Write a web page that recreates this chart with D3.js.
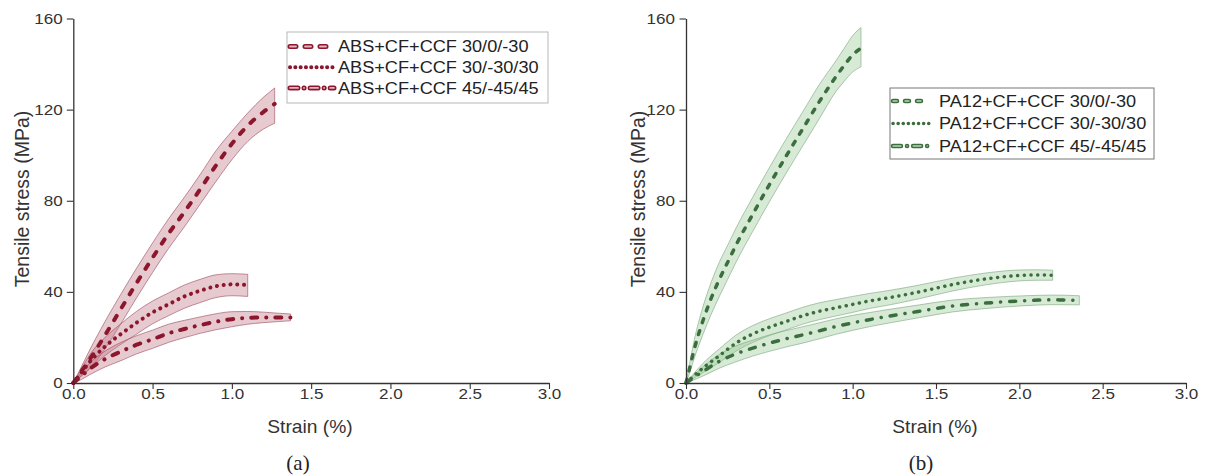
<!DOCTYPE html>
<html><head><meta charset="utf-8">
<script src="https://cdn.jsdelivr.net/npm/d3@7"></script>
<style>body{margin:0;background:#fff}svg{display:block}</style>
</head><body>
<svg id="c" width="1205" height="476"></svg>
<script>
// ---------- DATA ----------
const xMajor = [0, 0.5, 1.0, 1.5, 2.0, 2.5, 3.0];
const yMajor = [0, 40, 80, 120, 160];
const xTitle = "Strain (%)";
const yTitle = "Tensile stress (MPa)";

// (a) ABS
const absLabels = ["ABS+CF+CCF 30/0/-30", "ABS+CF+CCF 30/-30/30", "ABS+CF+CCF 45/-45/45"];
const a1Strain = [0, 0.05, 0.1, 0.2, 0.3, 0.4, 0.5, 0.6, 0.7, 0.8, 0.9, 1.0, 1.1, 1.2, 1.27];
const a1Mean   = [0, 5, 10, 21, 32.5, 44, 55, 65.5, 75, 85, 95.5, 105, 113, 119, 122.5];
const a1Upper  = [0, 7, 14, 27, 39, 50.5, 61.5, 72, 81.5, 91.5, 102, 110.5, 118.5, 125.5, 129.5];
const a1Lower  = [0, 3, 6, 15, 26, 37.5, 48.5, 59, 68.5, 78.5, 88.5, 98, 106, 111.5, 114];

const a2Strain = [0, 0.05, 0.1, 0.2, 0.3, 0.4, 0.5, 0.6, 0.7, 0.8, 0.9, 1.0, 1.1];
const a2Mean   = [0, 4.5, 9, 16, 21.5, 26.5, 31, 34.5, 38, 40.5, 42.5, 43.3, 43];
const a2Upper  = [0, 6, 12, 20, 26, 31.5, 36, 39.5, 43, 45.5, 47.5, 48, 47.7];
const a2Lower  = [0, 3, 6, 12, 17, 21.5, 26, 29.5, 32.8, 35.3, 37.5, 38.3, 38];

const a3Strain = [0, 0.05, 0.1, 0.2, 0.3, 0.4, 0.5, 0.6, 0.7, 0.8, 0.9, 1.0, 1.1, 1.2, 1.3, 1.37];
const a3Mean   = [0, 3, 6, 10.5, 13.8, 16.8, 19.2, 21.8, 23.7, 25.4, 26.9, 28, 28.6, 28.8, 28.8, 28.8];
const a3Upper  = [0, 4.5, 8.5, 14, 17.8, 20.8, 23.2, 25.8, 27.5, 29, 30.4, 31.3, 31.4, 31.1, 30.6, 30.3];
const a3Lower  = [0, 1.5, 3.5, 7, 9.8, 12.8, 15.2, 17.8, 19.9, 21.8, 23.4, 24.7, 25.8, 26.5, 27, 27.3];

// (b) PA12
const paLabels = ["PA12+CF+CCF 30/0/-30", "PA12+CF+CCF 30/-30/30", "PA12+CF+CCF 45/-45/45"];
const b1Strain = [0, 0.02, 0.05, 0.1, 0.15, 0.2, 0.25, 0.3, 0.4, 0.5, 0.6, 0.7, 0.8, 0.9, 0.95, 1.0, 1.05];
const b1Mean   = [0, 6, 15, 27, 37, 45.5, 53, 60.5, 74, 87, 99.5, 111.5, 123.5, 134.5, 139.5, 144, 147];
const b1Upper  = [0, 8, 19, 33, 44, 53, 60.5, 68, 81.5, 94.5, 107, 119, 131, 141.5, 147, 152.5, 156];
const b1Lower  = [0, 4, 11, 21, 30, 38, 45.5, 53, 66.5, 79.5, 92, 104, 116, 128, 132.5, 136.5, 138.8];

const b2Strain = [0, 0.1, 0.2, 0.3, 0.4, 0.5, 0.6, 0.7, 0.8, 0.9, 1.0, 1.1, 1.2, 1.4, 1.6, 1.8, 2.0, 2.1, 2.2];
const b2Mean   = [0, 6.5, 12, 17.5, 21.5, 24.5, 27, 29.5, 31.5, 33, 34.5, 36, 37.2, 40, 43.2, 45.7, 47.2, 47.4, 47.3];
const b2Upper  = [0, 8.5, 15, 21, 25.2, 28.2, 30.7, 33.2, 35.2, 36.6, 38, 39.3, 40.4, 43, 46, 48.3, 49.6, 49.7, 49.5];
const b2Lower  = [0, 4.5, 9, 14, 17.8, 20.8, 23.3, 25.8, 27.8, 29.4, 31, 32.7, 34, 37, 40.4, 43.1, 44.8, 45.1, 45.1];

const b3Strain = [0, 0.1, 0.2, 0.3, 0.4, 0.5, 0.6, 0.7, 0.8, 0.9, 1.0, 1.1, 1.2, 1.4, 1.6, 1.8, 2.0, 2.2, 2.36];
const b3Mean   = [0, 5, 9.5, 12.8, 15.3, 17.5, 19.4, 21.1, 22.9, 24.8, 26.4, 27.8, 29.1, 31.5, 33.8, 35.1, 36, 36.5, 36.3];
const b3Upper  = [0, 7, 12.5, 16.3, 18.8, 21.1, 23, 24.7, 26.4, 28.2, 29.7, 30.9, 32.1, 34.3, 36.4, 37.5, 38.2, 38.6, 38.3];
const b3Lower  = [0, 3, 6.5, 9.3, 11.8, 13.9, 15.8, 17.5, 19.4, 21.4, 23.1, 24.7, 26.1, 28.7, 31.2, 32.7, 33.8, 34.4, 34.3];

// ---------- DRAW ----------
const svg = d3.select("#c");
const FONT = "'Liberation Sans', Arial, Helvetica, sans-serif";
const SX = 1.1;

function series(s, m, u, l) { return s.map((v, i) => ({x: v, m: m[i], u: u[i], l: l[i]})); }

function panel(o) {
  const x = d3.scaleLinear().domain([0, 3]).range([o.x0, o.x3]);
  const y = d3.scaleLinear().domain([0, 160]).range([383, 18.5]);
  const g = svg.append("g");

  // bands
  o.data.forEach(d => {
    const area = d3.area().x(p => x(p.x)).y0(p => y(p.l)).y1(p => y(p.u)).curve(d3.curveMonotoneX);
    g.append("path").attr("d", area(d)).attr("fill", o.fill).attr("fill-opacity", o.fillOp)
      .attr("stroke", o.edge).attr("stroke-width", 0.6);
  });
  // lines
  o.data.forEach((d, i) => {
    const line = d3.line().x(p => x(p.x)).y(p => y(p.m)).curve(d3.curveMonotoneX);
    g.append("path").attr("d", line(d)).attr("fill", "none").attr("stroke", o.color)
      .attr("stroke-width", o.lw).attr("stroke-linecap", "round").attr("stroke-dasharray", o.dash[i]);
  });

  // axes
  const xMinor = d3.range(0, 31).map(v => v / 10).filter(v => !xMajor.some(m => Math.abs(m - v) < 1e-9));
  const yMinor = d3.range(0, 161, 8).filter(v => !yMajor.includes(v));
  const ax = g.append("g").attr("transform", "translate(0,383)");
  ax.call(d3.axisBottom(x).tickValues(xMinor).tickSize(3.5).tickSizeOuter(0).tickFormat(""));
  ax.call(d3.axisBottom(x).tickValues(xMajor).tickSize(6).tickSizeOuter(0).tickFormat(d3.format(".1f")));
  const ay = g.append("g").attr("transform", `translate(${o.x0},0)`);
  ay.call(d3.axisLeft(y).tickValues(yMinor).tickSize(3.5).tickSizeOuter(0).tickFormat(""));
  ay.call(d3.axisLeft(y).tickValues(yMajor).tickSize(6.5).tickSizeOuter(0).tickFormat(d3.format("d")));
  [ax, ay].forEach(a => {
    a.selectAll("path.domain").attr("stroke", "#333").attr("stroke-width", 1.3);
    a.selectAll("line").attr("stroke", "#333").attr("stroke-width", 1.1);
    a.selectAll("text").attr("font-family", FONT).attr("font-size", 15.5).attr("fill", "#333");
  });
  ax.selectAll("text").attr("y", 5).attr("dy", "0.71em").attr("transform", `scale(${SX},1)`);
  ay.selectAll("text").attr("x", o.ylabOff / SX).attr("transform", `scale(${SX},1)`);

  // titles
  svg.append("text").attr("transform", `translate(${o.xtX},433) scale(${SX},1)`)
    .attr("text-anchor", "middle").attr("font-family", FONT).attr("font-size", 17.5).attr("fill", "#333").text(xTitle);
  svg.append("text").attr("transform", `translate(${o.ytX},199) rotate(-90)`)
    .attr("text-anchor", "middle").attr("dy", "0.35em").attr("font-family", FONT).attr("font-size", 19.5).attr("fill", "#333").text(yTitle);
  svg.append("text").attr("x", o.capX).attr("y", 470).attr("text-anchor", "middle")
    .attr("font-family", "'Liberation Serif', 'Times New Roman', serif").attr("font-size", 21).attr("fill", "#222").text(o.cap);

  // legend
  const L = o.leg;
  const lg = svg.append("g");
  lg.append("rect").attr("x", L.x).attr("y", L.y).attr("width", L.w).attr("height", L.h)
    .attr("fill", "#fff").attr("stroke", L.stroke).attr("stroke-width", 1);
  o.labels.forEach((t, i) => {
    const yy = L.y + L.r0 + i * L.dy;
    const outline = i !== 1;
    lg.append("line").attr("x1", L.sx0).attr("x2", L.sx1).attr("y1", yy).attr("y2", yy)
      .attr("stroke", o.color).attr("stroke-width", outline ? o.lw + 1 : o.lw).attr("stroke-linecap", "round")
      .attr("stroke-dasharray", o.legDash[i]);
    if (outline) lg.append("line").attr("x1", L.sx0).attr("x2", L.sx1).attr("y1", yy).attr("y2", yy)
      .attr("stroke", o.legInner).attr("stroke-width", o.lw - 2.2).attr("stroke-linecap", "round")
      .attr("stroke-dasharray", o.legDash[i]);
    lg.append("text").attr("transform", `translate(${L.tx},${yy}) scale(${SX},1)`).attr("dy", "0.36em")
      .attr("font-family", FONT).attr("font-size", 16.5).attr("fill", "#222").text(t);
  });
}

panel({
  x0: 73.3, x3: 549,
  data: [series(a1Strain, a1Mean, a1Upper, a1Lower), series(a2Strain, a2Mean, a2Upper, a2Lower), series(a3Strain, a3Mean, a3Upper, a3Lower)],
  color: "#8c162c", fill: "#c4788a", fillOp: 0.4, edge: "#9a4a5a", lw: 4,
  dash: ["5,10", "0.1,6.7", "6,9,0.1,9"], legDash: ["6,9", "0.1,5.2", "8,6,0.1,6"], legInner: "#e2b5bd",
  xtX: 310, ytX: 22, capX: 298, cap: "(a)", ylabOff: -10.5, labels: absLabels,
  leg: {x: 287, y: 32, w: 261, h: 71, stroke: "#b8b8b8", r0: 14.5, dy: 20.7, sx0: 290, sx1: 334, tx: 338}
});
panel({
  x0: 686, x3: 1186,
  data: [series(b1Strain, b1Mean, b1Upper, b1Lower), series(b2Strain, b2Mean, b2Upper, b2Lower), series(b3Strain, b3Mean, b3Upper, b3Lower)],
  color: "#3b6e3d", fill: "#8cc48d", fillOp: 0.36, edge: "#7aa67b", lw: 3.5,
  dash: ["4,8.5", "0.1,6.6", "6,9,0.1,9"], legDash: ["4,8", "0.1,5", "8,6,0.1,6"], legInner: "#b9d7b9",
  xtX: 935, ytX: 638, capX: 921, cap: "(b)", ylabOff: -11, labels: paLabels,
  leg: {x: 890, y: 88, w: 264, h: 71, stroke: "#777", r0: 13, dy: 22.5, sx0: 893, sx1: 929, tx: 939}
});
</script>
</body></html>
